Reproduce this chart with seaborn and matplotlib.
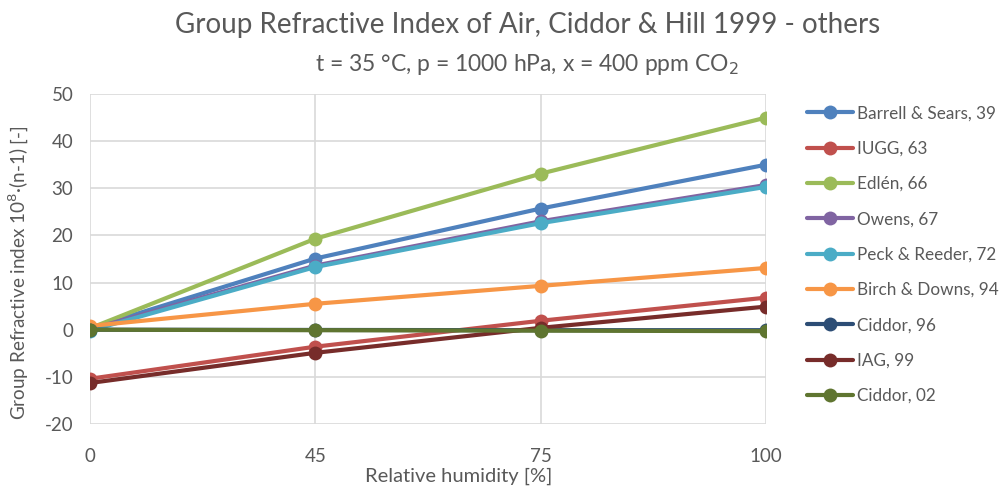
import matplotlib
matplotlib.use("Agg")
import matplotlib.pyplot as plt
import pandas as pd
import seaborn as sns

sns.set_style("white")
plt.rcParams["font.family"] = ["Lato", "DejaVu Sans"]
plt.rcParams["axes.unicode_minus"] = False

humidity = ["0", "45", "75", "100"]

series_names = [
    "Barrell & Sears, 39",
    "IUGG, 63",
    "Edlén, 66",
    "Owens, 67",
    "Peck & Reeder, 72",
    "Birch & Downs, 94",
    "Ciddor, 96",
    "IAG, 99",
    "Ciddor, 02",
]

barrell = [0.3, 15.1, 25.7, 35.0]
iugg = [-10.4, -3.6, 1.9, 6.8]
edlen = [0.3, 19.3, 33.1, 45.0]
owens = [0.1, 13.6, 23.0, 30.7]
peck = [-0.2, 13.3, 22.6, 30.3]
birch = [0.8, 5.5, 9.3, 13.1]
ciddor96 = [0.0, -0.05, -0.1, -0.1]
iag = [-11.3, -4.9, 0.4, 4.9]
ciddor02 = [0.0, -0.1, -0.2, -0.3]

colors = ["#4F81BD", "#C0504D", "#9BBB59", "#8064A2", "#4BACC6",
          "#F79646", "#2C4D75", "#772C2A", "#5F7530"]

all_values = [barrell, iugg, edlen, owens, peck, birch, ciddor96, iag, ciddor02]

rows = []
for name, vals in zip(series_names, all_values):
    for i, v in enumerate(vals):
        rows.append({"series": name, "pos": i, "value": v})
df = pd.DataFrame(rows)

text_color = "#595959"
grid_color = "#D9D9D9"

fig = plt.figure(figsize=(10.04, 4.86), dpi=100)
ax = fig.add_axes([90 / 1004, 1 - 424 / 486, (766 - 90) / 1004, (424 - 94) / 486])

sns.lineplot(
    data=df,
    x="pos",
    y="value",
    hue="series",
    hue_order=series_names,
    palette=colors,
    marker="o",
    markersize=10,
    markeredgewidth=0,
    linewidth=3,
    ax=ax,
    legend=True,
)

ax.set_xlim(0, 3)
ax.set_ylim(-20, 50)
ax.set_xticks(range(len(humidity)))
ax.set_xticklabels(humidity)
ax.set_yticks(range(-20, 51, 10))
ax.grid(True, color=grid_color, linewidth=1.2)
ax.set_axisbelow(True)
for s in ax.spines.values():
    s.set_visible(False)
ax.tick_params(axis="both", length=0, labelsize=13.5, labelcolor=text_color)
ax.tick_params(axis="y", pad=12)
ax.tick_params(axis="x", pad=17)

ax.set_xlabel("")
ax.set_ylabel("Group Refractive index 10$^8$·(n-1) [-]", fontsize=13.6,
              color=text_color)
ax.yaxis.set_label_coords(-0.087, 0.46)

fig.text(459 / 1004, 1 - 476 / 486, "Relative humidity [%]",
         ha="center", va="center", fontsize=14.5, color=text_color)

fig.text(528 / 1004, 1 - 25 / 486, "Group Refractive Index of Air, Ciddor & Hill 1999 - others",
         ha="center", va="center", fontsize=20, color=text_color)
fig.text(527 / 1004, 1 - 64 / 486, "t = 35 °C, p = 1000 hPa, x = 400 ppm CO$_2$",
         ha="center", va="center", fontsize=16.5, color=text_color)

handles, labels = ax.get_legend_handles_labels()
leg = ax.legend(
    handles, labels,
    loc="upper left",
    bbox_to_anchor=(792 / 1004, 1 - 90 / 486),
    bbox_transform=fig.transFigure,
    frameon=False,
    fontsize=12.3,
    handlelength=2.7,
    handletextpad=0.2,
    labelspacing=1.13,
)
for t in leg.get_texts():
    t.set_color(text_color)

fig.savefig("out.png", dpi=100)
